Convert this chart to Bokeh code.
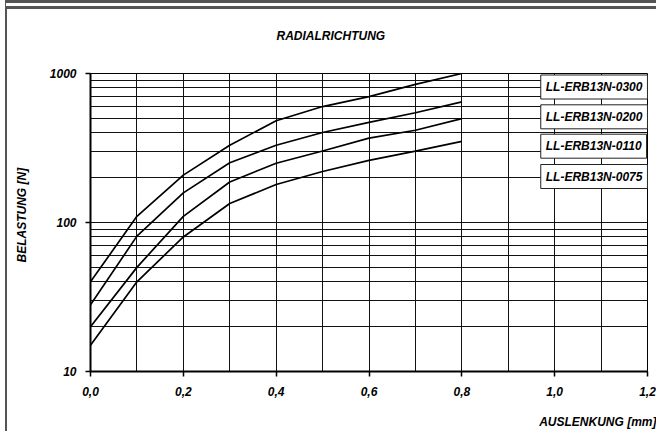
import numpy as np
from bokeh.plotting import figure
from bokeh.models import FixedTicker, CustomJSTickFormatter, Label, Range1d, Title
from bokeh.embed import file_html
from bokeh.resources import INLINE

# ---- data ----
deflection = [0.0, 0.1, 0.2, 0.3, 0.4, 0.5, 0.6, 0.7, 0.8]
load_0300 = [40, 110, 208, 330, 482, 600, 700, 845, 1000]
load_0200 = [28, 81, 158, 252, 330, 402, 470, 545, 645]
load_0110 = [20, 50, 110, 187, 250, 302, 368, 416, 498]
load_0075 = [15, 40, 80, 134, 180, 220, 261, 301, 350]
series_names = ["LL-ERB13N-0300", "LL-ERB13N-0200", "LL-ERB13N-0110", "LL-ERB13N-0075"]
x_ticks = [0.0, 0.2, 0.4, 0.6, 0.8, 1.0, 1.2]
x_minor = [0.1, 0.3, 0.5, 0.7, 0.9, 1.1]
y_ticks = [10, 100, 1000]
y_minor = [20, 30, 40, 50, 60, 70, 80, 90, 200, 300, 400, 500, 600, 700, 800, 900]

title_text = "RADIALRICHTUNG"
x_label = "AUSLENKUNG [mm]"
y_label = "BELASTUNG [N]"

FONT = "Liberation Sans"

W, H = 651, 431
p = figure(width=W, height=H, output_backend="svg", toolbar_location=None,
           y_axis_type="log", x_range=Range1d(0, 1.2), y_range=Range1d(10, 1000),
           min_border_left=83, min_border_right=11, min_border_top=64, min_border_bottom=69)
p.styles = {"margin-left": "5px",
            "border-left": "2px solid #555555",
            "border-top": "9px double #555555"}
p.background_fill_color = "white"
p.border_fill_color = "white"
p.outline_line_color = "black"
p.outline_line_width = 1


def spacer(standoff):
    # blank side panel used only to push the real side titles outward
    return Title(text=" ", standoff=standoff, text_font=FONT, text_font_size="12px",
                 text_color="white")


# title (left aligned + offset so that it sits centred on the whole chart box)
p.title.text = title_text
p.title.align = "left"
p.title.offset = 186
p.title.vertical_align = "bottom"
p.title.standoff = 0
p.title.text_font = FONT
p.title.text_font_style = "bold italic"
p.title.text_font_size = "12px"
p.title.text_color = "black"
p.add_layout(spacer(15), "above")

# axes
p.xaxis.ticker = FixedTicker(ticks=x_ticks, minor_ticks=x_minor)
p.yaxis.ticker = FixedTicker(ticks=y_ticks, minor_ticks=y_minor)
p.xaxis.formatter = CustomJSTickFormatter(code="return tick.toFixed(1).replace('.', ',');")
p.yaxis.formatter = CustomJSTickFormatter(code="return Math.round(tick).toString();")
for ax in (p.xaxis, p.yaxis):
    ax.axis_line_color = "black"
    ax.axis_line_width = 2
    ax.major_tick_line_color = "black"
    ax.major_tick_line_width = 1.5
    ax.major_tick_out = 5
    ax.major_tick_in = 0
    ax.minor_tick_line_color = None
    ax.major_label_text_font = FONT
    ax.major_label_text_font_style = "bold italic"
    ax.major_label_text_font_size = "12px"
    ax.major_label_text_color = "black"
p.xaxis.major_label_standoff = 10
p.yaxis.major_label_standoff = 9

# axis titles as side titles (pushed outward by blank spacers)
p.add_layout(spacer(0), "below")
p.add_layout(Title(text=x_label, align="right", offset=-9, vertical_align="top",
                   standoff=0, text_font=FONT, text_font_style="bold italic",
                   text_font_size="12px", text_color="black"), "below")
p.add_layout(spacer(0), "left")
p.add_layout(Title(text=y_label, align="left", offset=109, vertical_align="top",
                   standoff=0, text_font=FONT, text_font_style="bold italic",
                   text_font_size="12px", text_color="black"), "left")

# grids
for g in (p.xgrid, p.ygrid):
    g.grid_line_color = "#111111"
    g.grid_line_width = 1
    g.minor_grid_line_color = "#111111"
    g.minor_grid_line_width = 1

# curves
for ys in (load_0300, load_0200, load_0110, load_0075):
    p.line(deflection, ys, line_color="black", line_width=1.7)

# pixel helpers (positions of annotations only)
def xdat(px):
    return (px - 90) / 463.9

def ydat(py):
    return 10 ** (1 + (371 - py) / 149.0)

# legend boxes
legend_centers = [86.5, 116.3, 145.7, 176.0]
for name, cy in zip(series_names, legend_centers):
    p.add_layout(Label(x=xdat(540), y=ydat(cy), text=name, text_font=FONT,
                       text_font_style="bold italic", text_font_size="12px",
                       text_color="black", text_align="left", text_baseline="middle",
                       background_fill_color="white", border_line_color="#222222",
                       border_line_width=1, padding=5))

open("out.html", "w").write(file_html(p, INLINE))
